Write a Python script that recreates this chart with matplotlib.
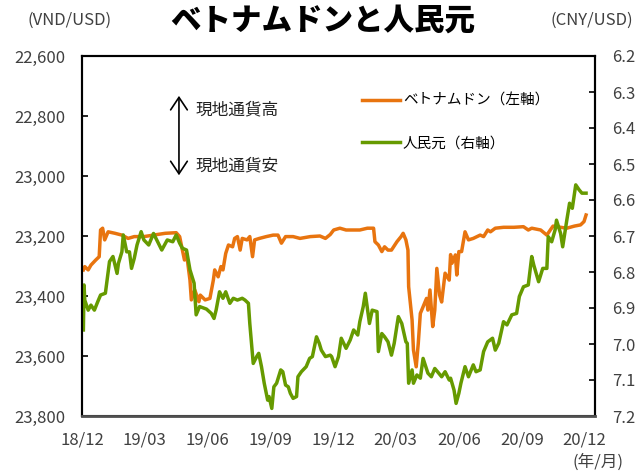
import pandas as pd
import matplotlib
matplotlib.use("Agg")
import matplotlib.pyplot as plt
import matplotlib.dates as mdates
from matplotlib.ticker import MultipleLocator, StrMethodFormatter

plt.rcParams['font.family'] = ['Noto Sans CJK JP', 'DejaVu Sans']

# ベトナムドン (VND/USD, 左軸)
vnd_dates = ['2018-12-03', '2018-12-05', '2018-12-10', '2018-12-14', '2018-12-21', '2018-12-26',
             '2018-12-28', '2018-12-31', '2019-01-03', '2019-01-08', '2019-01-18', '2019-01-28',
             '2019-02-06', '2019-02-15', '2019-03-01', '2019-03-15', '2019-04-01', '2019-04-17',
             '2019-04-22', '2019-04-26', '2019-04-29', '2019-05-02', '2019-05-07', '2019-05-09',
             '2019-05-14', '2019-05-20', '2019-05-22', '2019-05-29', '2019-06-05', '2019-06-10',
             '2019-06-12', '2019-06-17', '2019-06-21', '2019-06-24', '2019-06-28', '2019-07-02',
             '2019-07-08', '2019-07-11', '2019-07-15', '2019-07-19', '2019-07-22', '2019-07-29',
             '2019-08-02', '2019-08-06', '2019-08-09', '2019-08-16', '2019-08-26', '2019-09-05',
             '2019-09-12', '2019-09-17', '2019-09-23', '2019-10-04', '2019-10-14', '2019-10-29',
             '2019-11-12', '2019-11-20', '2019-11-27', '2019-12-02', '2019-12-11', '2019-12-20',
             '2019-12-31', '2020-01-09', '2020-01-20', '2020-01-29', '2020-01-31', '2020-02-05',
             '2020-02-10', '2020-02-14', '2020-02-19', '2020-02-24', '2020-03-03', '2020-03-09',
             '2020-03-12', '2020-03-16', '2020-03-19', '2020-03-20', '2020-03-25', '2020-03-27',
             '2020-03-31', '2020-04-03', '2020-04-06', '2020-04-10', '2020-04-15', '2020-04-17',
             '2020-04-20', '2020-04-24', '2020-04-27', '2020-04-30', '2020-05-04', '2020-05-07',
             '2020-05-12', '2020-05-18', '2020-05-20', '2020-05-22', '2020-05-27', '2020-05-29',
             '2020-06-01', '2020-06-05', '2020-06-10', '2020-06-15', '2020-06-22', '2020-07-02',
             '2020-07-07', '2020-07-13', '2020-07-17', '2020-07-24', '2020-08-05', '2020-08-20',
             '2020-09-03', '2020-09-10', '2020-09-15', '2020-09-28', '2020-10-07', '2020-10-12',
             '2020-10-16', '2020-10-27', '2020-11-05', '2020-11-16', '2020-11-25', '2020-11-30',
             '2020-12-03']
vnd_values = [23313, 23302, 23313, 23297, 23280, 23269,
              23180, 23174, 23213, 23186, 23191, 23197,
              23208, 23202, 23202, 23197, 23191, 23189,
              23202, 23247, 23280, 23258, 23347, 23413,
              23380, 23419, 23397, 23413, 23408, 23347,
              23313, 23336, 23302, 23313, 23258, 23230,
              23236, 23208, 23202, 23247, 23208, 23213,
              23202, 23269, 23213, 23208, 23202, 23197,
              23197, 23224, 23202, 23202, 23208, 23202,
              23200, 23208, 23195, 23180, 23174, 23180,
              23180, 23180, 23174, 23174, 23219, 23230,
              23252, 23236, 23247, 23247, 23219, 23202,
              23191, 23213, 23247, 23369, 23480, 23580,
              23636, 23558, 23458, 23436, 23408, 23447,
              23380, 23502, 23447, 23308, 23397, 23420,
              23324, 23347, 23262, 23291, 23263, 23330,
              23252, 23252, 23186, 23213, 23208, 23197,
              23202, 23180, 23186, 23174, 23171, 23171,
              23169, 23180, 23174, 23180, 23197, 23180,
              23167, 23171, 23174, 23167, 23163, 23152,
              23130]

# 人民元 (CNY/USD, 右軸)
cny_dates = ['2018-12-03', '2018-12-04', '2018-12-05', '2018-12-10', '2018-12-14', '2018-12-19',
             '2018-12-24', '2018-12-28', '2019-01-04', '2019-01-10', '2019-01-15', '2019-01-21',
             '2019-01-23', '2019-01-28', '2019-01-30', '2019-02-04', '2019-02-08', '2019-02-11',
             '2019-02-15', '2019-02-19', '2019-02-25', '2019-03-01', '2019-03-08', '2019-03-15',
             '2019-03-22', '2019-03-27', '2019-04-04', '2019-04-12', '2019-04-17', '2019-04-22',
             '2019-04-26', '2019-05-02', '2019-05-07', '2019-05-13', '2019-05-16', '2019-05-21',
             '2019-05-31', '2019-06-07', '2019-06-11', '2019-06-14', '2019-06-19', '2019-06-24',
             '2019-06-28', '2019-07-04', '2019-07-09', '2019-07-15', '2019-07-22', '2019-07-26',
             '2019-07-31', '2019-08-02', '2019-08-07', '2019-08-12', '2019-08-15', '2019-08-19',
             '2019-08-23', '2019-08-28', '2019-08-30', '2019-09-03', '2019-09-06', '2019-09-10',
             '2019-09-16', '2019-09-19', '2019-09-23', '2019-09-27', '2019-09-30', '2019-10-04',
             '2019-10-09', '2019-10-11', '2019-10-16', '2019-10-23', '2019-10-28', '2019-11-01',
             '2019-11-07', '2019-11-11', '2019-11-14', '2019-11-20', '2019-11-27', '2019-11-29',
             '2019-12-04', '2019-12-09', '2019-12-13', '2019-12-20', '2019-12-26', '2019-12-31',
             '2020-01-06', '2020-01-09', '2020-01-14', '2020-01-17', '2020-01-23', '2020-01-27',
             '2020-02-03', '2020-02-05', '2020-02-10', '2020-02-14', '2020-02-19', '2020-02-24',
             '2020-02-28', '2020-03-05', '2020-03-10', '2020-03-16', '2020-03-18', '2020-03-20',
             '2020-03-25', '2020-03-27', '2020-04-01', '2020-04-06', '2020-04-10', '2020-04-14',
             '2020-04-17', '2020-04-22', '2020-04-27', '2020-05-01', '2020-05-07', '2020-05-12',
             '2020-05-18', '2020-05-20', '2020-05-25', '2020-05-28', '2020-06-01', '2020-06-04',
             '2020-06-10', '2020-06-15', '2020-06-22', '2020-06-26', '2020-07-02', '2020-07-07',
             '2020-07-13', '2020-07-20', '2020-07-24', '2020-07-29', '2020-08-05', '2020-08-10',
             '2020-08-17', '2020-08-24', '2020-08-28', '2020-09-03', '2020-09-10', '2020-09-15',
             '2020-09-18', '2020-09-25', '2020-10-01', '2020-10-07', '2020-10-09', '2020-10-14',
             '2020-10-19', '2020-10-21', '2020-10-27', '2020-10-30', '2020-11-05', '2020-11-09',
             '2020-11-13', '2020-11-18', '2020-11-23', '2020-11-27', '2020-12-03']
cny_values = [6.961, 6.836, 6.878, 6.906, 6.892, 6.906,
              6.882, 6.864, 6.859, 6.771, 6.757, 6.804,
              6.776, 6.744, 6.697, 6.744, 6.744, 6.790,
              6.762, 6.725, 6.688, 6.711, 6.725, 6.693,
              6.720, 6.739, 6.711, 6.716, 6.697, 6.720,
              6.734, 6.739, 6.794, 6.831, 6.919, 6.896,
              6.903, 6.915, 6.929, 6.906, 6.855, 6.873,
              6.855, 6.887, 6.873, 6.878, 6.873, 6.878,
              6.887, 6.943, 7.054, 7.035, 7.026, 7.063,
              7.109, 7.156, 7.146, 7.179, 7.119, 7.109,
              7.072, 7.077, 7.114, 7.119, 7.137, 7.151,
              7.146, 7.091, 7.077, 7.063, 7.040, 7.035,
              6.980, 6.998, 7.017, 7.035, 7.031, 7.035,
              7.063, 7.035, 6.984, 7.012, 6.989, 6.961,
              6.975, 6.938, 6.896, 6.859, 6.943, 6.906,
              6.910, 7.021, 6.971, 6.980, 6.994, 7.031,
              6.998, 6.924, 6.943, 6.994, 6.998, 7.109,
              7.072, 7.109, 7.086, 7.095, 7.040, 7.063,
              7.081, 7.091, 7.068, 7.077, 7.091, 7.077,
              7.100, 7.095, 7.128, 7.165, 7.137, 7.109,
              7.063, 7.091, 7.058, 7.077, 7.072, 7.021,
              6.994, 6.984, 7.017, 6.998, 6.938, 6.947,
              6.919, 6.915, 6.868, 6.841, 6.836, 6.757,
              6.781, 6.827, 6.790, 6.790, 6.702, 6.716,
              6.683, 6.656, 6.693, 6.730, 6.656, 6.609,
              6.623, 6.558, 6.572, 6.581, 6.581]

tick_dates = pd.date_range('2018-12-01', '2020-12-01', freq='3MS')

vnd = pd.Series(vnd_values, index=pd.to_datetime(vnd_dates))
cny = pd.Series(cny_values, index=pd.to_datetime(cny_dates))

orange = '#E8740F'
green = '#669A00'
grey = '#404040'

fig = plt.figure(figsize=(6.35, 4.74), dpi=100)
fig.subplots_adjust(left=82/635, right=595/635, bottom=1-416/474, top=1-56/474)
ax = fig.add_subplot(111)
ax2 = ax.twinx()

l1, = ax.plot(vnd.index, vnd.values, color=orange, lw=2.5, label='ベトナムドン（左軸）')
l2, = ax2.plot(cny.index, cny.values, color=green, lw=2.5, label='人民元（右軸）')

# 軸 (上が現地通貨高)
ax.set_ylim(23800, 22600)
ax.yaxis.set_major_locator(MultipleLocator(200))
ax.yaxis.set_major_formatter(StrMethodFormatter('{x:,.0f}'))
ax2.set_ylim(7.2, 6.2)
ax2.yaxis.set_major_locator(MultipleLocator(0.1))
ax2.yaxis.set_major_formatter(StrMethodFormatter('{x:.1f}'))

ax.set_xlim(pd.Timestamp('2018-12-01'), pd.Timestamp('2020-12-16'))
ax.set_xticks(tick_dates)
ax.xaxis.set_major_formatter(mdates.DateFormatter('%y/%m'))

ax.tick_params(axis='y', direction='in', length=4, width=1.2, labelsize=12, labelcolor=grey, pad=12)
ax2.tick_params(axis='y', direction='in', length=4, width=1.2, labelsize=12, labelcolor=grey, pad=12)
ax.tick_params(axis='x', length=0, labelsize=12, labelcolor=grey, pad=11)

for a in (ax, ax2):
    for s in a.spines.values():
        s.set_linewidth(1.5)
        s.set_color('black')
ax2.spines['bottom'].set_color('#505050')
ax2.spines['bottom'].set_linewidth(2)

# タイトル・単位
fig.text(323/635, 1-20/474, 'ベトナムドンと人民元', ha='center', va='center', fontsize=22, fontweight='black')
fig.text(70/635, 1-20/474, '(VND/USD)', ha='center', va='center', fontsize=12, color=grey)
fig.text(592/635, 1-20/474, '(CNY/USD)', ha='center', va='center', fontsize=12, color=grey)
fig.text(598/635, 1-462/474, '(年/月)', ha='center', va='center', fontsize=12, color=grey)

# 現地通貨高/安 の矢印
ax2.annotate('', xy=(0.189, 0.897), xytext=(0.189, 0.661), xycoords='axes fraction',
             arrowprops=dict(arrowstyle='<->,head_length=0.45,head_width=0.3', lw=1.2,
                             color='black', mutation_scale=20))
ax2.text(0.222, 0.85, '現地通貨高', transform=ax2.transAxes, va='center', fontsize=12, color='#222222')
ax2.text(0.222, 0.694, '現地通貨安', transform=ax2.transAxes, va='center', fontsize=12, color='#222222')

ax2.legend(handles=[l1, l2], loc='upper left', bbox_to_anchor=(362/635, 1-94/474),
           bbox_transform=fig.transFigure, frameon=False, fontsize=10.5,
           handlelength=2.6, handletextpad=0.2, labelspacing=1.95, borderpad=0, borderaxespad=0)

plt.savefig('out.png', dpi=100)
